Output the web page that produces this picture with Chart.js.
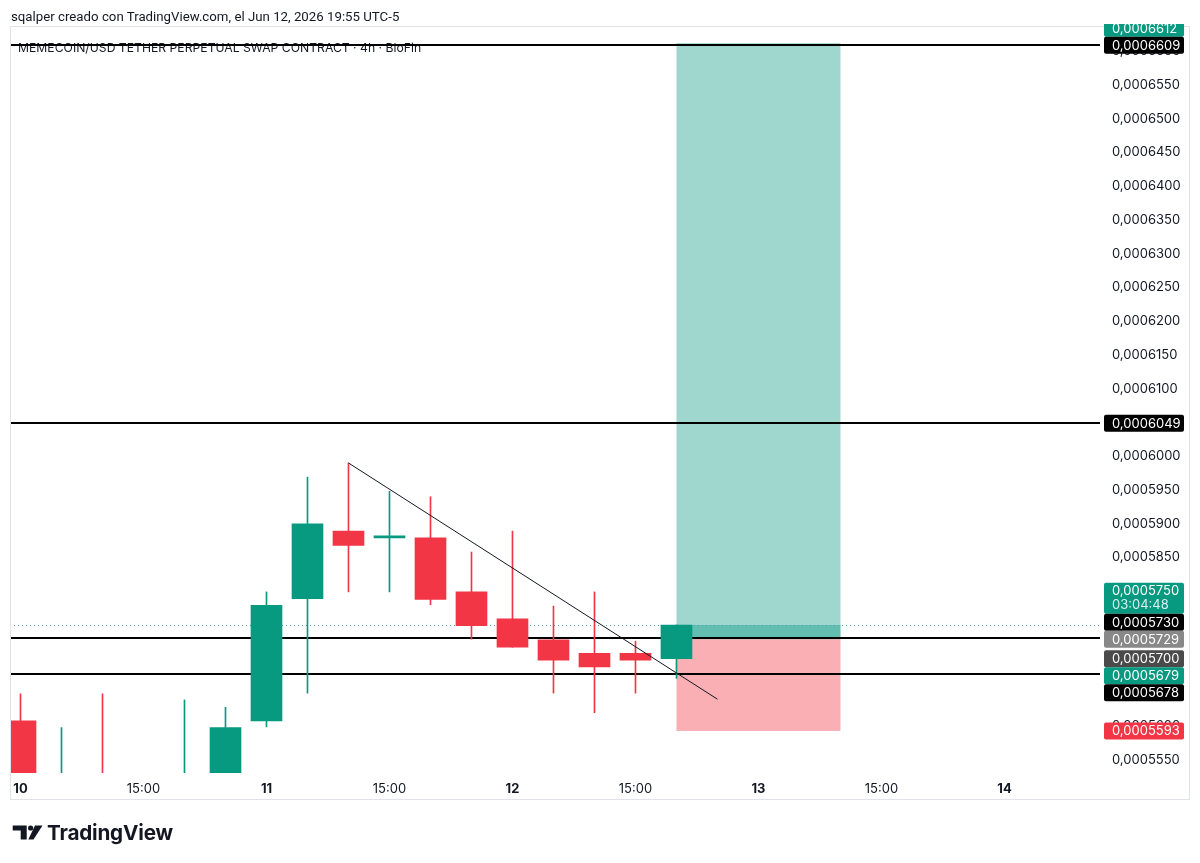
<!DOCTYPE html>
<html>
<head>
<meta charset="utf-8">
<script src="https://cdn.jsdelivr.net/npm/chart.js@4.4.1/dist/chart.umd.min.js"></script>
<style>
  html, body { margin: 0; padding: 0; background: #ffffff; }
  #wrap { position: relative; width: 1200px; height: 863px; overflow: hidden; background: #fff; }
  #chart { position: absolute; left: 0; top: 0; }
  #hdr { position: absolute; left: 11px; top: 9px; font: 13.25px Roboto, "Noto Sans", sans-serif; line-height: 16px; color: #131722; white-space: nowrap; }
  #logo { position: absolute; left: 12px; top: 821px; height: 22px; display: flex; align-items: center; }
  #logo span { font: 700 20.7px Inter, "Noto Sans", sans-serif; color: #131722; margin-left: 2px; letter-spacing: -0.2px; }
</style>
</head>
<body>
<div id="wrap">
  <canvas id="chart" width="1200" height="863"></canvas>
  <div id="hdr">sqalper creado con TradingView.com, el Jun 12, 2026 19:55 UTC-5</div>
  <div id="logo">
    <svg width="33" height="15" viewBox="0 0 33 15">
      <polygon points="0.7,0.5 14.7,0.5 14.7,14.5 8.7,14.5 8.7,5.5 0.7,5.5" fill="#131722"/>
      <circle cx="18.6" cy="3" r="2.6" fill="#131722"/>
      <polygon points="23,0.5 30.5,0.5 21.5,14.5 16.3,14.5" fill="#131722"/>
    </svg>
    <span>TradingView</span>
  </div>
</div>
<script>
// ---------------- DATA ----------------
const legendText = 'MEMECOIN/USD TETHER PERPETUAL SWAP CONTRACT · 4h · BloFin';

// 4h candles, index 0 = Jun 10 03:00 (UTC-5)
const candleIndex = [0, 1, 2, 3, 4, 5, 6, 7, 8, 9, 10, 11, 12, 13, 14, 15, 16];
const opens  = [0.0005608, 0.0005490, 0.0005520, 0.0005500, 0.0005495, 0.0005515, 0.0005608, 0.0005789, 0.0005889, 0.0005879, 0.0005879, 0.0005799, 0.0005759, 0.0005728, 0.0005708, 0.0005708, 0.0005700];
const highs  = [0.0005648, 0.0005598, 0.0005648, 0.0005525, 0.0005639, 0.0005628, 0.0005799, 0.0005969, 0.0005990, 0.0005948, 0.0005940, 0.0005858, 0.0005889, 0.0005778, 0.0005799, 0.0005726, 0.0005750];
const lows   = [0.0005470, 0.0005460, 0.0005470, 0.0005460, 0.0005480, 0.0005505, 0.0005599, 0.0005649, 0.0005799, 0.0005799, 0.0005780, 0.0005729, 0.0005717, 0.0005649, 0.0005620, 0.0005649, 0.0005671];
const closes = [0.0005505, 0.0005515, 0.0005495, 0.0005485, 0.0005520, 0.0005598, 0.0005779, 0.0005900, 0.0005868, 0.0005880, 0.0005788, 0.0005749, 0.0005717, 0.0005698, 0.0005688, 0.0005698, 0.0005750];

// x axis ticks (bar index) and their labels
const xTickValues = [0, 3, 6, 9, 12, 15, 18, 21, 24];
const xTickLabels = ['10', '15:00', '11', '15:00', '12', '15:00', '13', '15:00', '14'];
const xMin = -0.256, xMax = 26.33;

// y axis ticks
const yTickValues = [0.0005550, 0.0005600, 0.0005650, 0.0005700, 0.0005750, 0.0005800, 0.0005850, 0.0005900, 0.0005950, 0.0006000, 0.0006050, 0.0006100, 0.0006150, 0.0006200, 0.0006250, 0.0006300, 0.0006350, 0.0006400, 0.0006450, 0.0006500, 0.0006550, 0.0006600];
const yMin = 0.00055307, yMax = 0.00066359;

// drawings
const hLineLevels = [0.0006609, 0.0006049, 0.0005730, 0.0005678];
const lastPrice = 0.0005750;
const trendStart = { x: 8, y: 0.0005990 };
const trendEnd   = { x: 17, y: 0.0005640 };
const positionStartBar = 16, positionEndBar = 20;
const positionTarget = 0.0006612, positionEntry = 0.0005729, positionStop = 0.0005593;

// price labels on the right scale
const labelPrices = [0.0006612, 0.0006609, 0.0006049, 0.0005750, 0.0005730, 0.0005729, 0.0005700, 0.0005679, 0.0005678, 0.0005593];
const labelSubText = ['', '', '', '03:04:48', '', '', '', '', '', ''];

// ---------------- STYLE ----------------
const UP = '#089981', DOWN = '#f23645';
const labelColors = ['#089981', '#000000', '#000000', '#089981', '#000000', '#888888', '#4a4a4a', '#089981', '#000000', '#f23645'];
const labelPinned = [false, true, true, false, false, true, false, false, false, true];
const FONT = 'Inter, "Noto Sans", sans-serif';

const fmt = v => v.toFixed(7).replace('.', ',');
const isUp = i => closes[i] >= opens[i];

const bodies = candleIndex.map(i => ({ x: i, y: [opens[i], closes[i]] }));
const wicks  = candleIndex.map(i => ({ x: i, y: [lows[i], highs[i]] }));

const overlay = {
  id: 'overlay',
  beforeDatasetsDraw(chart) {
    const { ctx, chartArea: a, scales: { x, y } } = chart;
    ctx.save();
    ctx.beginPath(); ctx.rect(a.left, a.top, a.right - a.left, a.bottom - a.top); ctx.clip();
    // legend text
    ctx.font = '12.2px ' + FONT;
    ctx.fillStyle = '#131722';
    ctx.textBaseline = 'alphabetic';
    ctx.textAlign = 'left';
    ctx.fillText(legendText, 18, 51.5);
    // long position box
    const x0 = x.getPixelForValue(positionStartBar), x1 = x.getPixelForValue(positionEndBar);
    const yT = y.getPixelForValue(positionTarget), yE = y.getPixelForValue(positionEntry);
    const yS = y.getPixelForValue(positionStop), yC = y.getPixelForValue(lastPrice);
    ctx.fillStyle = 'rgba(8,153,129,0.39)';
    ctx.fillRect(x0, yT, x1 - x0, yE - yT);
    ctx.fillStyle = 'rgba(242,54,69,0.4)';
    ctx.fillRect(x0, yE, x1 - x0, yS - yE);
    ctx.fillStyle = 'rgba(8,153,129,0.4)';
    ctx.fillRect(x0, yC, x1 - x0, yE - yC);
    // horizontal lines
    ctx.strokeStyle = '#000';
    ctx.lineWidth = 2;
    hLineLevels.forEach(v => {
      const py = Math.round(y.getPixelForValue(v));
      ctx.beginPath(); ctx.moveTo(a.left, py); ctx.lineTo(a.right, py); ctx.stroke();
    });
    // last price dotted line
    const pc = Math.round(yC) + 0.5;
    ctx.strokeStyle = '#4aa8b0';
    ctx.lineWidth = 1;
    ctx.setLineDash([1, 3]);
    ctx.beginPath(); ctx.moveTo(a.left, pc); ctx.lineTo(a.right, pc); ctx.stroke();
    ctx.setLineDash([]);
    ctx.restore();
  },
  afterDatasetsDraw(chart) {
    const { ctx, chartArea: a, scales: { x, y } } = chart;
    ctx.save();
    ctx.beginPath(); ctx.rect(a.left, a.top, a.right - a.left, a.bottom - a.top); ctx.clip();
    ctx.strokeStyle = '#131722';
    ctx.lineWidth = 1;
    ctx.beginPath();
    ctx.moveTo(x.getPixelForValue(trendStart.x), y.getPixelForValue(trendStart.y));
    ctx.lineTo(x.getPixelForValue(trendEnd.x), y.getPixelForValue(trendEnd.y));
    ctx.stroke();
    ctx.restore();
  },
  afterDraw(chart) {
    const { ctx, chartArea: a, scales: { y } } = chart;
    ctx.save();
    // panel border
    ctx.strokeStyle = '#e0e3eb';
    ctx.lineWidth = 1;
    ctx.strokeRect(10.5, 26.5, 1179, 773);
    // price labels with overlap resolution
    const LH = 17, LH2 = 31;
    const items = labelPrices.map((v, i) => ({
      i, v, y: y.getPixelForValue(v), h: labelSubText[i] ? LH2 : LH, pinned: labelPinned[i]
    }));
    items.sort((p, q) => p.y - q.y || (p.pinned ? 1 : -1));
    items.forEach((it, k) => {
      if (!it.pinned) return;
      for (let j = k - 1; j >= 0 && !items[j].pinned; j--) {
        const below = items[j + 1];
        const maxBottom = below.y - below.h / 2;
        if (items[j].y + items[j].h / 2 > maxBottom) items[j].y = maxBottom - items[j].h / 2;
      }
      for (let j = k + 1; j < items.length && !items[j].pinned; j++) {
        const above = items[j - 1];
        const minTop = above.y + above.h / 2;
        if (items[j].y - items[j].h / 2 < minTop) items[j].y = minTop + items[j].h / 2;
      }
    });
    ctx.beginPath(); ctx.rect(a.right, 24, 200, 863); ctx.clip();
    const bx = a.right + 4, bw = 80;
    ctx.textAlign = 'left';
    ctx.textBaseline = 'middle';
    ctx.font = '13px ' + FONT;
    items.forEach(it => {
      const top = it.y - it.h / 2;
      ctx.fillStyle = labelColors[it.i];
      ctx.beginPath();
      if (ctx.roundRect) ctx.roundRect(bx, top, bw, it.h, 2); else ctx.rect(bx, top, bw, it.h);
      ctx.fill();
      ctx.fillStyle = '#ffffff';
      if (labelSubText[it.i]) {
        ctx.fillText(fmt(it.v), bx + 8, top + 8.5);
        ctx.fillStyle = 'rgba(255,255,255,0.85)';
        ctx.fillText(labelSubText[it.i], bx + 8, top + 22.5);
      } else {
        ctx.fillText(fmt(it.v), bx + 8, top + it.h / 2 + 0.5);
      }
    });
    ctx.restore();
  }
};

new Chart(document.getElementById('chart'), {
  type: 'bar',
  data: {
    datasets: [
      {
        label: 'wicks',
        data: wicks,
        grouped: false,
        barThickness: 1,
        backgroundColor: ctx => isUp(ctx.dataIndex) ? UP : DOWN,
        borderWidth: 0,
        order: 2
      },
      {
        label: 'bodies',
        data: bodies,
        grouped: false,
        barThickness: 31,
        minBarLength: 2,
        backgroundColor: ctx => isUp(ctx.dataIndex) ? UP : DOWN,
        borderWidth: 0,
        order: 1
      }
    ]
  },
  options: {
    responsive: false,
    animation: false,
    devicePixelRatio: 1,
    layout: { padding: { left: 10, right: 10, top: 27, bottom: 63 } },
    plugins: { legend: { display: false }, tooltip: { enabled: false } },
    scales: {
      x: {
        type: 'linear',
        min: xMin, max: xMax,
        offset: false,
        grid: { display: false, drawTicks: false },
        border: { display: false },
        afterBuildTicks: s => { s.ticks = xTickValues.map(v => ({ value: v })); },
        afterFit: s => { s.height = 27; },
        ticks: {
          padding: 8,
          maxRotation: 0,
          autoSkip: false,
          color: '#131722',
          font: c => ({ family: FONT, size: 13, weight: (c.tick && xTickLabels[xTickValues.indexOf(c.tick.value)] || '').includes(':') ? '400' : '700' }),
          callback: v => { const k = xTickValues.indexOf(v); return k >= 0 ? xTickLabels[k] : ''; }
        }
      },
      y: {
        position: 'right',
        min: yMin, max: yMax,
        grid: { display: false, drawTicks: false },
        border: { display: false },
        afterBuildTicks: s => { s.ticks = yTickValues.map(v => ({ value: v })); },
        afterFit: s => { s.width = 90; },
        ticks: {
          padding: 12,
          autoSkip: false,
          color: '#131722',
          font: { family: FONT, size: 13 },
          callback: v => fmt(v)
        }
      }
    }
  },
  plugins: [overlay]
});
</script>
</body>
</html>
